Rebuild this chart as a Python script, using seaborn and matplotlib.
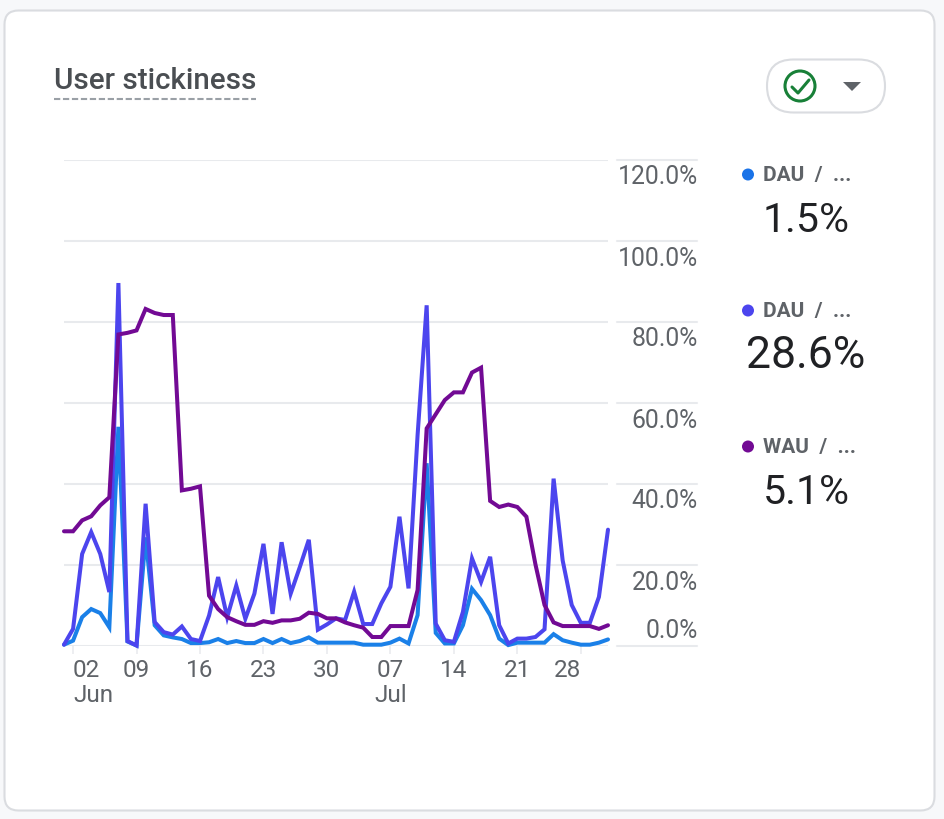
#!/usr/bin/env python3
import pandas as pd
import seaborn as sns
import matplotlib.pyplot as plt
from matplotlib.lines import Line2D
from matplotlib.patches import Circle, FancyBboxPatch, Polygon

days = pd.date_range('2024-06-01', '2024-07-31')

dau_wau = [
    0.2, 1.2, 7.0, 9.0, 8.0, 4.5, 54.0, 1.0, 0.0, 26.7, 5.0, 2.5, 2.0, 1.6, 0.6, 0.6,
    0.8, 1.6, 0.6, 1.1, 0.6, 0.6, 1.6, 0.6, 1.6, 0.6, 1.1, 2.0, 0.7, 0.7,
    0.7, 0.7, 0.7, 0.2, 0.2, 0.2, 0.7, 1.7, 0.5, 7.5, 45.0, 3.1, 0.5, 0.5, 5.0, 14.0,
    11.2, 7.5, 1.7, 0.1, 0.7, 0.7, 0.7, 0.7, 2.8, 1.3, 0.7, 0.2, 0.2, 0.7, 1.5,
]
dau_mau = [
    0.2, 4.1, 22.6, 28.0, 22.6, 13.2, 89.5, 1.1, 0.0, 35.0, 5.8, 3.3, 2.7, 4.7, 1.6, 1.1,
    7.4, 16.9, 7.0, 14.8, 6.6, 12.8, 25.1, 7.8, 25.5, 12.8, 19.3, 26.1, 3.9, 5.2,
    6.7, 6.3, 13.3, 5.3, 5.3, 10.4, 14.5, 31.8, 14.1, 52.0, 84.0, 5.4, 1.3, 0.9, 8.3, 21.5,
    15.7, 21.9, 5.0, 0.5, 1.7, 1.7, 2.1, 4.0, 41.2, 21.0, 10.0, 5.6, 5.6, 12.0, 28.6,
]
wau_mau = [
    28.2, 28.2, 30.9, 31.9, 34.6, 36.6, 76.8, 77.2, 77.8, 83.1, 82.1, 81.6, 81.6, 38.3, 38.7, 39.3,
    12.3, 9.0, 7.0, 6.0, 5.1, 5.1, 6.0, 5.6, 6.2, 6.2, 6.6, 8.1, 7.8, 6.7,
    6.7, 5.7, 5.0, 4.4, 2.1, 2.1, 4.8, 4.8, 4.8, 13.7, 53.6, 57.1, 60.6, 62.5, 62.5, 67.4,
    68.6, 35.7, 34.2, 34.8, 34.2, 31.8, 20.0, 10.0, 5.7, 4.8, 4.8, 4.8, 4.8, 4.1, 5.0,
]

y_ticks = [0, 20, 40, 60, 80, 100, 120]
y_labels = ['0.0%', '20.0%', '40.0%', '60.0%', '80.0%', '100.0%', '120.0%']
x_ticks = ['2024-06-02', '2024-06-09', '2024-06-16', '2024-06-23', '2024-06-30',
           '2024-07-07', '2024-07-14', '2024-07-21', '2024-07-28']
x_labels = ['02\nJun', '09', '16', '23', '30', '07\nJul', '14', '21', '28']

metrics = ['DAU / WAU', 'DAU / MAU', 'WAU / MAU']
metric_colors = ['#1a80e8', '#4c45ee', '#720a94']

GREY = '#5f6368'
GRID = '#e8eaed'

df = pd.DataFrame({'day': days, 'DAU / MAU': dau_mau, 'DAU / WAU': dau_wau, 'WAU / MAU': wau_mau})
df = df.melt(id_vars='day', var_name='metric', value_name='pct')

sns.set_theme(style='white')
plt.rcParams['font.family'] = ['Roboto', 'DejaVu Sans']

fig = plt.figure(figsize=(9.45, 8.19), dpi=100, facecolor='#f7f8fa')

# page furniture in pixel coordinates
bg = fig.add_axes([0, 0, 1, 1], zorder=0)
bg.set_xlim(0, 945)
bg.set_ylim(819, 0)
bg.axis('off')
bg.add_patch(FancyBboxPatch((4.5, 10.5), 930, 800, boxstyle='round,pad=0,rounding_size=14',
                            fc='white', ec='#dadce0', lw=1.5))
bg.text(54, 81, 'User stickiness', fontsize=21.3, color='#4a4e52', fontweight='medium',
        ha='left', va='center')
bg.add_line(Line2D([54, 256], [99, 99], color='#9aa0a6', lw=1.5, dashes=(3, 1.3)))

# chip with check icon
bg.add_patch(FancyBboxPatch((767, 59.5), 118, 53, boxstyle='round,pad=0,rounding_size=26.5',
                            fc='white', ec='#dadce0', lw=1.5))
bg.add_patch(Circle((800, 86), 15, fc='none', ec='#188038', lw=2.2))
bg.add_line(Line2D([792, 798, 809], [87, 93, 80], color='#188038', lw=2.2))
bg.add_patch(Polygon([[843, 82], [861, 82], [852, 91]], fc=GREY, ec='none'))

# legend column
for label, value, dot, size, y in zip(['DAU  /  ...', 'DAU  /  ...', 'WAU  /  ...'],
                                      ['1.5%', '28.6%', '5.1%'],
                                      ['#1a73e8', '#4c45ee', '#720a94'],
                                      [29.5, 32, 29.5],
                                      [175, 311, 447]):
    bg.add_patch(Circle((748, y - 0.5), 6, fc=dot, ec='none'))
    bg.text(763, y, label, fontsize=15, fontweight='bold', color=GREY, ha='left', va='center')
    bg.text(806, y + 45.5, value, fontsize=size, color='#202124', ha='center', va='center')

ax = fig.add_axes([64 / 945, 1 - 645.5 / 819, 544 / 945, 486 / 819], zorder=1)
ax.patch.set_alpha(0)

sns.lineplot(data=df, x='day', y='pct', hue='metric', hue_order=metrics, palette=metric_colors,
             legend=False, linewidth=2.9, solid_joinstyle='miter', clip_on=False, zorder=3, ax=ax)

ax.set_xlim(days[0], days[-1])
ax.set_ylim(0, 120)
ax.set(xlabel=None, ylabel=None)
sns.despine(ax=ax, left=True, bottom=True)

ax.set_yticks(y_ticks)
ax.set_yticklabels([])
ax.tick_params(axis='y', length=0)
ax.grid(axis='y', color=GRID, lw=1.5)
ax.set_axisbelow(True)

# the axis labels sit in their own strip right of the plot
strip = ax.get_yaxis_transform()
for v, lab in zip(y_ticks, y_labels):
    ax.plot([1.0165, 1.1636], [v, v], transform=strip, color=GRID, lw=1.5, clip_on=False)
    ax.annotate(lab, xy=(1.1636, v), xycoords=strip, xytext=(1, 14 if v == 0 else -18),
                textcoords='offset pixels', ha='right', va='center', fontsize=17.8, color=GREY)

ax.set_xticks(pd.to_datetime(x_ticks))
ax.set_xticklabels(x_labels, fontsize=17.5, color=GREY, linespacing=1.1)
ax.tick_params(axis='x', length=6, width=1.1, color=GRID, pad=4, bottom=True)
ax.get_xticklabels()[0].set_ha('left')
ax.get_xticklabels()[0].set_multialignment('left')
ax.get_xticklabels()[-1].set_ha('right')

fig.savefig('out.png', dpi=100, facecolor=fig.get_facecolor())
